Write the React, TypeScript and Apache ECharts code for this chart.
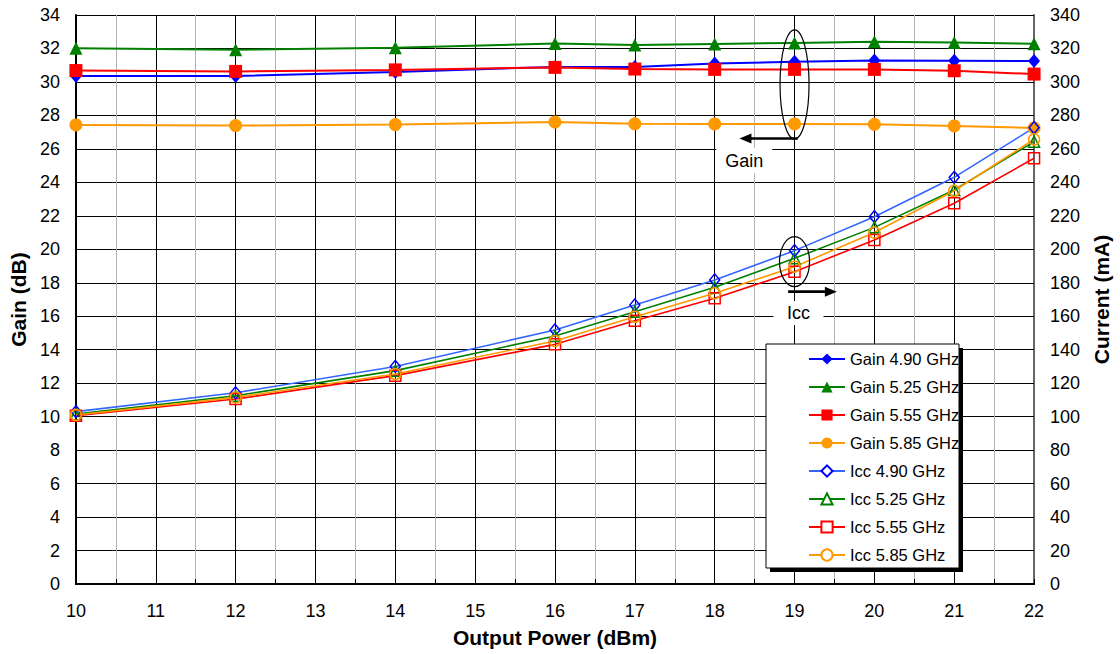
import { useEffect, useRef } from "react";
import * as echarts from "echarts";

// Output power sweep points (dBm)
const outputPower = [10, 12, 14, 16, 17, 18, 19, 20, 21, 22];

// Gain (dB) per frequency
const gain490 = [30.36, 30.36, 30.6, 30.9, 30.9, 31.1, 31.2, 31.28, 31.27, 31.25];
const gain525 = [32.02, 31.93, 32.05, 32.3, 32.2, 32.27, 32.33, 32.4, 32.35, 32.28];
const gain555 = [30.68, 30.63, 30.72, 30.87, 30.77, 30.75, 30.75, 30.75, 30.67, 30.47];
const gain585 = [27.43, 27.39, 27.45, 27.6, 27.5, 27.49, 27.49, 27.47, 27.37, 27.25];

// Supply current Icc (mA) per frequency
const icc490 = [103, 114.3, 130, 151.8, 166.7, 181.7, 199.2, 219.5, 243, 272.7];
const icc525 = [101.5, 112.5, 127.5, 148.2, 162.7, 177.3, 194.6, 213.1, 235.4, 264.3];
const icc555 = [100.5, 110.5, 124.5, 143.2, 157.3, 170.7, 186.6, 205.6, 227.5, 254.4];
const icc585 = [101, 111.5, 125.5, 145.2, 159.7, 173.7, 189.6, 210, 235, 265.7];

const FONT = "'Liberation Sans', Arial, sans-serif";

const pairs = (vals: number[]) => outputPower.map((x, i) => [x, vals[i]]);

function gainSeries(name: string, vals: number[], color: string, symbol: string, size: number | number[]) {
  return {
    name,
    type: "line",
    yAxisIndex: 0,
    data: pairs(vals),
    symbol,
    symbolSize: size,
    lineStyle: { color, width: 2 },
    itemStyle: { color },
  };
}

function iccSeries(name: string, vals: number[], lineColor: string, markColor: string, symbol: string, size: number | number[]) {
  return {
    name,
    type: "line",
    yAxisIndex: 1,
    data: pairs(vals),
    symbol,
    symbolSize: size,
    lineStyle: { color: lineColor, width: 1.6 },
    itemStyle: { color: "rgba(255,255,255,0)", borderColor: markColor, borderWidth: 1.5 },
  };
}

const series = [
  gainSeries("Gain 4.90 GHz", gain490, "#0000ff", "diamond", [12, 14]),
  gainSeries("Gain 5.25 GHz", gain525, "#008000", "triangle", 13),
  gainSeries("Gain 5.55 GHz", gain555, "#ff0000", "rect", 13),
  gainSeries("Gain 5.85 GHz", gain585, "#ff9900", "circle", 13),
  iccSeries("Icc 4.90 GHz", icc490, "#3366ff", "#0000ff", "diamond", [10, 12]),
  iccSeries("Icc 5.25 GHz", icc525, "#008000", "#008000", "triangle", 11),
  iccSeries("Icc 5.55 GHz", icc555, "#ff0000", "#ff0000", "rect", 11),
  iccSeries("Icc 5.85 GHz", icc585, "#ff9900", "#ff9900", "circle", 11),
];

const legendNames = series.map((s) => s.name);

export default function App() {
  const ref = useRef<HTMLDivElement>(null);

  useEffect(() => {
    if (!ref.current) return;
    const chart = echarts.init(ref.current, undefined, { renderer: "svg" });

    chart.setOption({
      animation: false,
      backgroundColor: "#fff",
      textStyle: { fontFamily: FONT },
      grid: { left: 75, right: 82, top: 15, bottom: 70 },
      xAxis: {
        type: "value",
        min: 10,
        max: 22,
        interval: 1,
        name: "Output Power (dBm)",
        nameLocation: "middle",
        nameGap: 43,
        nameTextStyle: { fontWeight: "bold", fontSize: 21, color: "#000", fontFamily: FONT },
        axisLine: { show: true, onZero: false, lineStyle: { color: "#000", width: 2 } },
        axisTick: { show: true, inside: true, length: 5, lineStyle: { color: "#000" } },
        minorTick: { show: true, splitNumber: 2, length: 5, lineStyle: { color: "#000" } },
        splitLine: { show: true, lineStyle: { color: "#000", width: 1 } },
        minorSplitLine: { show: true, lineStyle: { color: "#b4b4b4", width: 1 } },
        axisLabel: { fontSize: 18, color: "#000", margin: 18, fontFamily: FONT },
      },
      yAxis: [
        {
          type: "value",
          position: "left",
          min: 0,
          max: 34,
          interval: 2,
          name: "Gain (dB)",
          nameLocation: "middle",
          nameGap: 37,
          nameTextStyle: { fontWeight: "bold", fontSize: 21, color: "#000", fontFamily: FONT },
          axisLine: { show: true, onZero: false, lineStyle: { color: "#000", width: 2 } },
          axisTick: { show: true, inside: true, length: 5, lineStyle: { color: "#000" } },
          splitLine: { show: true, lineStyle: { color: "#000", width: 1 } },
          axisLabel: { fontSize: 18, color: "#000", margin: 16, fontFamily: FONT },
        },
        {
          type: "value",
          position: "right",
          min: 0,
          max: 340,
          interval: 20,
          name: "Current (mA)",
          nameLocation: "middle",
          nameGap: 56,
          nameTextStyle: { fontWeight: "bold", fontSize: 21, color: "#000", fontFamily: FONT },
          axisLine: { show: true, onZero: false, lineStyle: { color: "#666", width: 2 } },
          axisTick: { show: true, inside: true, length: 5, lineStyle: { color: "#000" } },
          splitLine: { show: false },
          axisLabel: { fontSize: 18, color: "#000", margin: 16, fontFamily: FONT },
        },
      ],
      legend: {
        orient: "vertical",
        left: 766,
        top: 344,
        padding: [6, 0, 0, 42],
        itemWidth: 36,
        itemHeight: 14,
        itemGap: 10,
        selectedMode: false,
        z: 20,
        textStyle: { fontSize: 16.5, color: "#000", lineHeight: 18, fontFamily: FONT },
        data: legendNames.map((name, i) =>
          i >= 4 ? { name, itemStyle: { color: "#fff" } } : { name }
        ),
      },
      series,
    });

    const px = (x: number, y: number) =>
      chart.convertToPixel({ xAxisIndex: 0, yAxisIndex: 0 }, [x, y]) as number[];

    const arrow = (from: number[], tipX: number, dir: number) => {
      const head = 12;
      const y = from[1];
      return [
        {
          type: "line",
          z: 10,
          shape: { x1: from[0], y1: y, x2: tipX - dir * head + dir * 1, y2: y },
          style: { stroke: "#000", lineWidth: 2.6 },
        },
        {
          type: "polygon",
          z: 10,
          shape: { points: [[tipX, y], [tipX - dir * head, y - 5], [tipX - dir * head, y + 5]] },
          style: { fill: "#000" },
        },
      ];
    };

    const label = (pos: number[], text: string, w: number, h: number) => [
      {
        type: "rect",
        z: 9,
        shape: { x: pos[0] - w / 2, y: pos[1] - h / 2, width: w, height: h },
        style: { fill: "#fff" },
      },
      {
        type: "text",
        z: 10,
        x: pos[0],
        y: pos[1],
        style: { text, fontSize: 18, fill: "#000", fontFamily: FONT, align: "center", verticalAlign: "middle" },
      },
    ];

    const gainEllipse = px(19, 29.85);
    const gainArrowStart = px(19.04, 26.62);
    const gainArrowTip = px(18.31, 26.62);
    const gainLabel = px(18.37, 25.3);

    const iccEllipse = px(19, 19.26);
    const iccArrowStart = px(18.92, 17.47);
    const iccArrowTip = px(19.53, 17.47);
    const iccLabel = px(19.05, 16.2);

    // Legend frame with drop shadow
    const frame = { x: 766, y: 344, width: 193, height: 224 };

    chart.setOption({
      graphic: [
        {
          type: "rect",
          z: 14,
          shape: { x: frame.x + 4, y: frame.y + 4, width: frame.width, height: frame.height },
          style: { fill: "#000" },
        },
        {
          type: "rect",
          z: 15,
          shape: frame,
          style: { fill: "#fff", stroke: "#000", lineWidth: 1 },
        },
        ...label(gainLabel, "Gain", 56, 25),
        ...label(iccLabel, "Icc", 50, 24),
        {
          type: "ellipse",
          z: 10,
          shape: { cx: gainEllipse[0], cy: gainEllipse[1], rx: 14.5, ry: 54.5 },
          style: { fill: "none", stroke: "#000", lineWidth: 1.2 },
        },
        ...arrow(gainArrowStart, gainArrowTip[0], -1),
        {
          type: "ellipse",
          z: 10,
          shape: { cx: iccEllipse[0], cy: iccEllipse[1], rx: 15, ry: 25 },
          style: { fill: "none", stroke: "#000", lineWidth: 1.2 },
        },
        ...arrow(iccArrowStart, iccArrowTip[0], 1),
      ],
    });

    return () => chart.dispose();
  }, []);

  return (
    <div
      ref={ref}
      style={{ position: "absolute", left: 0, top: 0, width: 1120, height: 654 }}
    />
  );
}
